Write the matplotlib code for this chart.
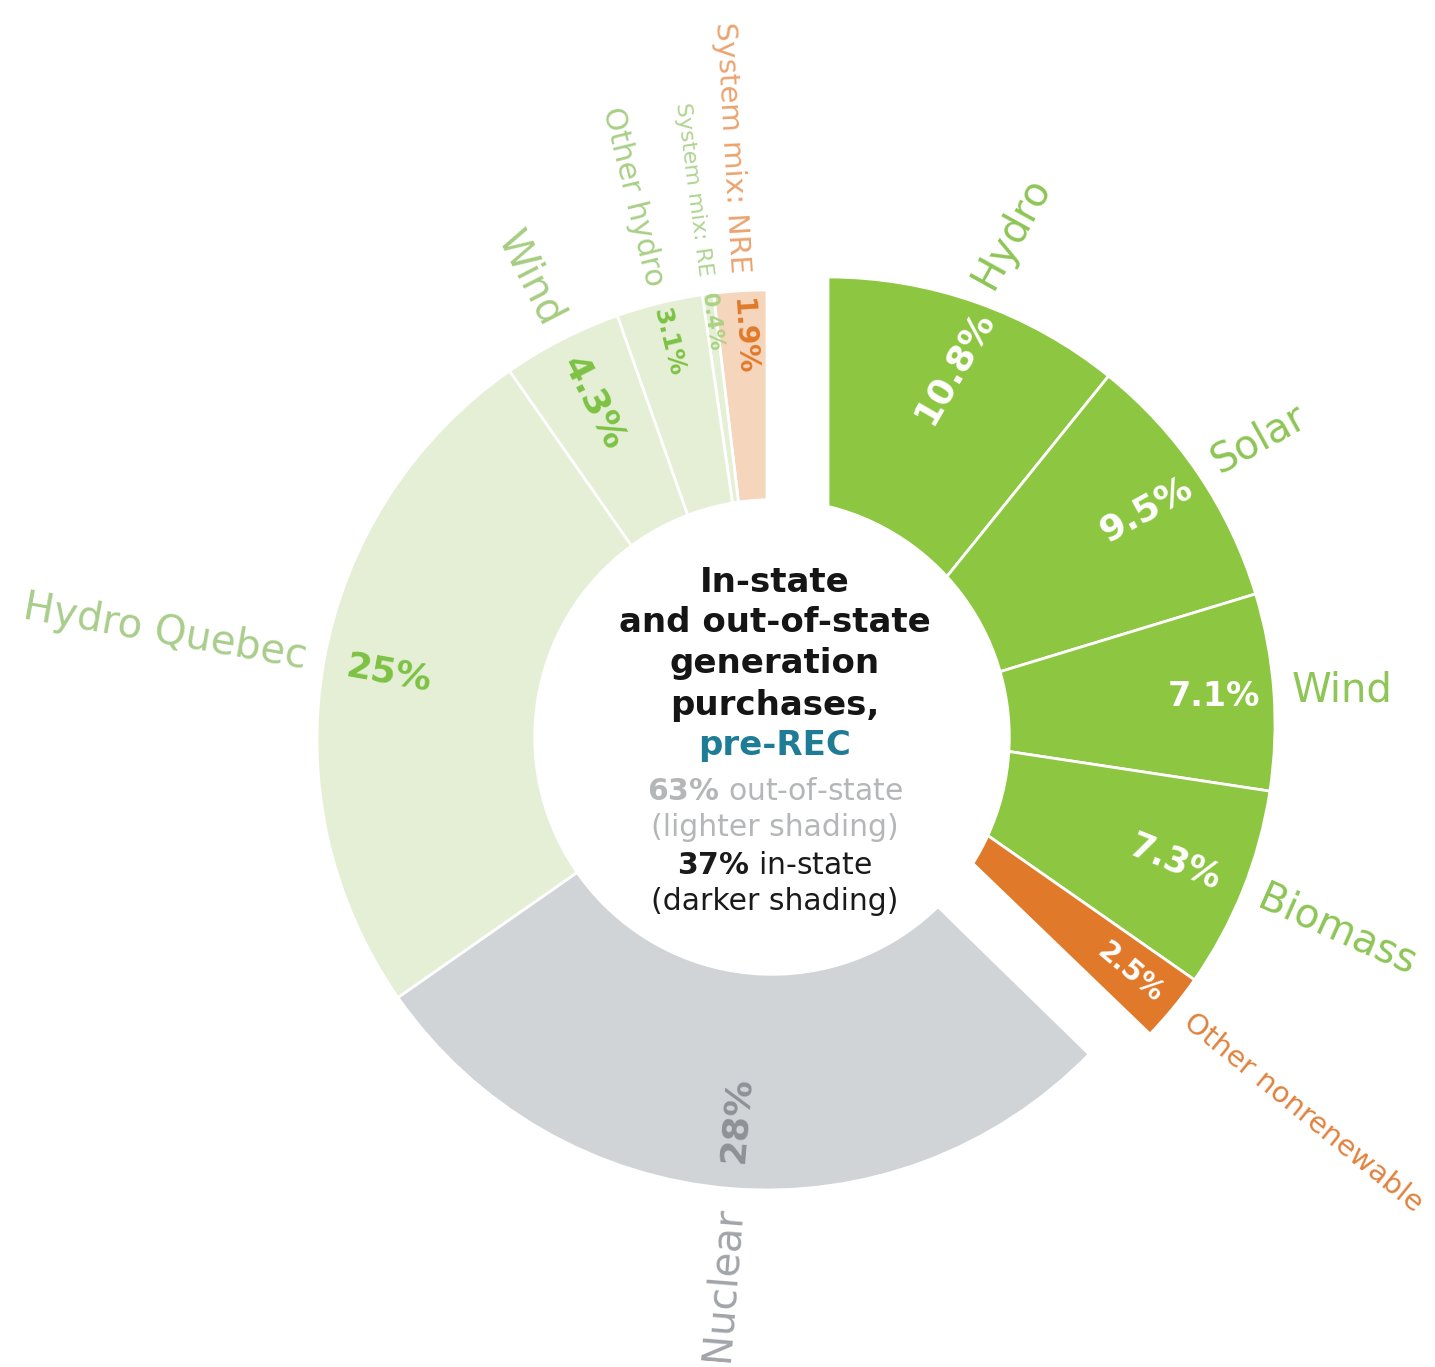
import matplotlib
matplotlib.use("Agg")
import matplotlib.pyplot as plt
import numpy as np
from matplotlib.patches import Circle

# Out-of-state purchases, counter-clockwise from 12 o'clock (percent of total)
out_names = ["System mix: NRE", "System mix: RE", "Other hydro", "Wind",
             "Hydro Quebec", "Nuclear"]
out_values = [1.9, 0.4, 3.1, 4.3, 25, 28]

# In-state generation, clockwise from 12 o'clock (percent of total)
in_names = ["Hydro", "Solar", "Wind", "Biomass", "Other nonrenewable"]
in_values = [10.8, 9.5, 7.1, 7.3, 2.5]

out_share = 63
in_share = 37

# --- styling -------------------------------------------------------------
LIGHT_GREEN = "#e4efd6"
DARK_GREEN = "#8dc641"
out_colors = ["#f6d5bd", LIGHT_GREEN, LIGHT_GREEN, LIGHT_GREEN, LIGHT_GREEN, "#d1d4d7"]
in_colors = [DARK_GREEN, DARK_GREEN, DARK_GREEN, DARK_GREEN, "#e07a2a"]

out_name_colors = ["#eba36f", "#b0d492", "#a8cf86", "#a6cd82", "#a9cd8b", "#a1a5a9"]
out_name_sizes = [21, 16, 22, 29, 29, 29]
out_pct_colors = ["#e07a2a", "#a9d382", "#7dc243", "#7dc243", "#7dc243", "#8d9297"]
out_pct_sizes = [20, 15, 18, 26, 26, 26]
out_pct_radius = [404, 422, 410, 379, 384, 381]

in_name_colors = ["#8dc556", "#8dc556", "#8dc556", "#8dc556", "#e0823f"]
in_name_sizes = [29, 29, 29, 29, 21]
in_name_rot = [61, 29, 0, -24, -39]
in_pct_sizes = [26, 26, 24, 25, 20]
in_pct_rot = [60, 29, 0, -22, -40]
in_pct_radius = [379, 384, 387, 374, 392]

R_OUT = 450          # radius of the out-of-state ring
R_IN = 447           # radius of the in-state ring
IN_CENTER = (61, 16)  # in-state group pulled out to the upper right
HOLE_CENTER = (5, 3)
HOLE_R = 238
NAME_GAP = 18

plt.rcParams["mathtext.fontset"] = "dejavusans"


def mid_angles(values, counterclock):
    span = np.asarray(values, dtype=float) * 3.6
    edges = np.concatenate([[0.0], np.cumsum(span)])
    mids = (edges[:-1] + edges[1:]) / 2
    return 90 + mids if counterclock else 90 - mids


def polar_text(ax, center, r, ang, text, rot, ha, **kw):
    a = np.deg2rad(ang)
    x = center[0] + r * np.cos(a)
    y = center[1] + r * np.sin(a)
    ax.text(x, y, text, rotation=rot, rotation_mode="anchor",
            ha=ha, va="center", **kw)


fig = plt.figure(figsize=(14.35, 13.67), dpi=100)
ax = fig.add_axes([0, 0, 1, 1])

ax.pie(np.array(out_values) / 100, colors=out_colors, startangle=90,
       counterclock=True, radius=R_OUT, center=(0, 0), normalize=False,
       wedgeprops=dict(edgecolor="white", linewidth=2))
ax.pie(np.array(in_values) / 100, colors=in_colors, startangle=90,
       counterclock=False, radius=R_IN, center=IN_CENTER, normalize=False,
       wedgeprops=dict(edgecolor="white", linewidth=2))

ax.add_patch(Circle(HOLE_CENTER, HOLE_R, color="white", zorder=3))

# out-of-state labels read inward along the radius
for name, val, ang, nc, ns, pc, ps, pr in zip(
        out_names, out_values, mid_angles(out_values, True),
        out_name_colors, out_name_sizes, out_pct_colors, out_pct_sizes,
        out_pct_radius):
    rot = ang - 180
    polar_text(ax, (0, 0), R_OUT + NAME_GAP, ang, name, rot, "right",
               color=nc, fontsize=ns)
    polar_text(ax, (0, 0), pr, ang, f"{val:g}%", rot, "center",
               color=pc, fontsize=ps, fontweight="bold")

# in-state labels read outward
for name, val, ang, nc, ns, nr, ps, prot, pr in zip(
        in_names, in_values, mid_angles(in_values, False),
        in_name_colors, in_name_sizes, in_name_rot, in_pct_sizes,
        in_pct_rot, in_pct_radius):
    polar_text(ax, IN_CENTER, R_IN + NAME_GAP, ang, name, nr, "left",
               color=nc, fontsize=ns)
    polar_text(ax, IN_CENTER, pr, ang, f"{val:g}%", prot, "center",
               color="white", fontsize=ps, fontweight="bold")

# centre caption
cx = 8
heading = ["In-state", "and out-of-state", "generation", "purchases,"]
for i, line in enumerate(heading):
    ax.text(cx, 158 - 41 * i, line, ha="center", va="center", fontsize=24.5,
            fontweight="bold", color="#151515", zorder=4)
ax.text(cx, -5, "pre-REC", ha="center", va="center", fontsize=24.5,
        fontweight="bold", color="#1f7c96", zorder=4)
ax.text(cx, -52, rf"$\mathbf{{{out_share}\%}}$ out-of-state", ha="center",
        va="center", fontsize=21.5, color="#b4b6b8", zorder=4)
ax.text(cx, -88, "(lighter shading)", ha="center", va="center", fontsize=21.5,
        color="#b4b6b8", zorder=4)
ax.text(cx, -125, rf"$\mathbf{{{in_share}\%}}$ in-state", ha="center",
        va="center", fontsize=21.5, color="#1a1a1a", zorder=4)
ax.text(cx, -162, "(darker shading)", ha="center", va="center", fontsize=21.5,
        color="#1a1a1a", zorder=4)

ax.set_xlim(-767, 668)
ax.set_ylim(-627, 740)
ax.set_aspect("equal")
ax.axis("off")

fig.savefig("out.png", dpi=100, facecolor="white")
